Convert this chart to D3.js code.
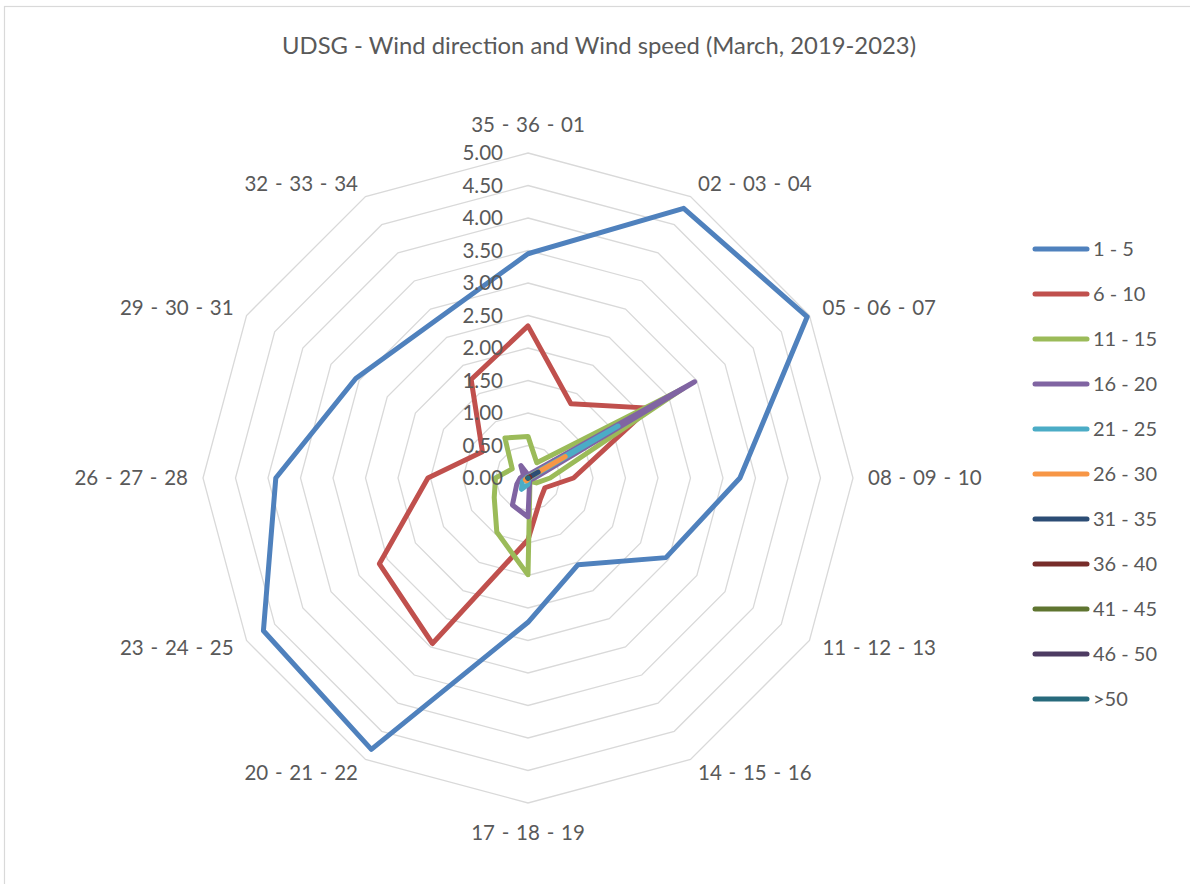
<!DOCTYPE html>
<html>
<head>
<meta charset="utf-8">
<script src="https://cdn.jsdelivr.net/npm/d3@7"></script>
<style>
  html, body { margin: 0; padding: 0; background: #fff; }
  svg { display: block; }
</style>
</head>
<body>
<svg id="chart" width="1190" height="884"></svg>
<script>
// ---------------- DATA ----------------
const title = "UDSG - Wind direction and Wind speed (March, 2019-2023)";
const directions = ["35 - 36 - 01", "02 - 03 - 04", "05 - 06 - 07", "08 - 09 - 10",
  "11 - 12 - 13", "14 - 15 - 16", "17 - 18 - 19", "20 - 21 - 22",
  "23 - 24 - 25", "26 - 27 - 28", "29 - 30 - 31", "32 - 33 - 34"];
const speedClasses = ["1 - 5", "6 - 10", "11 - 15", "16 - 20", "21 - 25", "26 - 30",
  "31 - 35", "36 - 40", "41 - 45", "46 - 50", ">50"];
const tickValues = [0, 0.5, 1, 1.5, 2, 2.5, 3, 3.5, 4, 4.5, 5];
const tickLabels = ["0.00", "0.50", "1.00", "1.50", "2.00", "2.50", "3.00", "3.50", "4.00", "4.50", "5.00"];

const s1_5   = [3.45, 4.79, 4.96, 3.26, 2.45, 1.54, 2.22, 4.82, 4.70, 3.88, 3.06, 2.81];
const s6_10  = [2.34, 1.32, 2.15, 0.70, 0.30, 0.38, 0.95, 2.94, 2.64, 1.54, 0.81, 1.75];
const s11_15 = [0.64, 0.27, 2.75, 0.34, 0.15, 0.06, 1.49, 0.96, 0.60, 0.50, 0.28, 0.71];
const s16_20 = [0.05, 0.08, 2.96, 0.10, 0.05, 0.05, 0.60, 0.48, 0.20, 0.12, 0.08, 0.22];
const s21_25 = [0.02, 0.03, 1.60, 0.03, 0.02, 0.02, 0.10, 0.20, 0.10, 0.03, 0.02, 0.02];
const s26_30 = [0.01, 0.01, 0.66, 0.01, 0.01, 0.01, 0.02, 0.05, 0.05, 0.01, 0.01, 0.01];
const s31_35 = [0.00, 0.00, 0.18, 0.00, 0.00, 0.00, 0.00, 0.00, 0.00, 0.00, 0.00, 0.00];
const s36_40 = [0.00, 0.00, 0.03, 0.00, 0.00, 0.00, 0.00, 0.00, 0.00, 0.00, 0.00, 0.00];
const s41_45 = [0, 0, 0, 0, 0, 0, 0, 0, 0, 0, 0, 0];
const s46_50 = [0, 0, 0, 0, 0, 0, 0, 0, 0, 0, 0, 0];
const s50p   = [0, 0, 0, 0, 0, 0, 0, 0, 0, 0, 0, 0];
const seriesValues = [s1_5, s6_10, s11_15, s16_20, s21_25, s26_30, s31_35, s36_40, s41_45, s46_50, s50p];
const seriesColors = ["#4F81BD", "#C0504D", "#9BBB59", "#8064A2", "#4BACC6", "#F79646",
  "#2C4D75", "#772C2A", "#5F7530", "#4D3B62", "#276A7C"];

// ---------------- LAYOUT ----------------
const svg = d3.select("#chart");
const cx = 528, cy = 478, R = 325;
const textColor = "#595959";
const font = "Lato, 'Open Sans', sans-serif";

svg.append("rect").attr("x", 0).attr("y", 0).attr("width", 1190).attr("height", 884).attr("fill", "#fff");
svg.append("rect").attr("x", 4.5).attr("y", 6.5).attr("width", 1200).attr("height", 900)
  .attr("fill", "none").attr("stroke", "#D9D9D9").attr("stroke-width", 1.2);

const rScale = d3.scaleLinear().domain([0, 5]).range([0, R]);
const angle = d3.scalePoint().domain(d3.range(directions.length)).range([0, 2 * Math.PI * (11 / 12)]);

const g = svg.append("g").attr("transform", `translate(${cx},${cy})`);

// grid rings
const ringLine = d3.lineRadial().angle((d, i) => angle(i)).radius(d => rScale(d)).curve(d3.curveLinearClosed);
tickValues.filter(v => v > 0).forEach(v => {
  g.append("path").attr("d", ringLine(directions.map(() => v)))
    .attr("fill", "none").attr("stroke", "#D9D9D9").attr("stroke-width", 1.3);
});

// series
const seriesLine = d3.lineRadial().angle((d, i) => angle(i)).radius(d => rScale(d)).curve(d3.curveLinearClosed);
seriesValues.forEach((vals, si) => {
  g.append("path").attr("d", seriesLine(vals))
    .attr("fill", "none").attr("stroke", seriesColors[si]).attr("stroke-width", 5)
    .attr("stroke-linejoin", "round").attr("stroke-linecap", "round");
});

// tick labels
tickValues.forEach((v, i) => {
  g.append("text").attr("x", -25).attr("y", -rScale(v)).attr("dy", "0.35em")
    .attr("text-anchor", "end").attr("font-family", font).attr("font-size", 20.5)
    .attr("fill", textColor).text(tickLabels[i]);
});

// direction labels
directions.forEach((lab, i) => {
  const a = angle(i);
  const s = Math.sin(a), c = Math.cos(a);
  const off = R + 15;
  let x = off * s, y = -off * c;
  let anchor = "middle";
  if (s > 0.01) anchor = "start"; else if (s < -0.01) anchor = "end";
  if (Math.abs(s) < 0.01) y += (c > 0 ? -13 : 15);
  g.append("text").attr("x", x).attr("y", y).attr("dy", "0.35em")
    .attr("text-anchor", anchor).attr("font-family", font).attr("font-size", 20.5)
    .attr("word-spacing", 1.5)
    .attr("fill", textColor).text(lab);
});

// title
svg.append("text").attr("x", 599).attr("y", 46).attr("dy", "0.35em")
  .attr("text-anchor", "middle").attr("font-family", font).attr("font-size", 23)
  .attr("fill", textColor).attr("textLength", 634).attr("lengthAdjust", "spacingAndGlyphs")
  .text(title);

// legend
const legY = d3.scalePoint().domain(speedClasses).range([249, 699]);
const leg = svg.append("g");
speedClasses.forEach((name, i) => {
  const y = legY(name);
  leg.append("line").attr("x1", 1035).attr("x2", 1087).attr("y1", y).attr("y2", y)
    .attr("stroke", seriesColors[i]).attr("stroke-width", 5).attr("stroke-linecap", "round");
  leg.append("text").attr("x", 1093).attr("y", y).attr("dy", "0.35em")
    .attr("font-family", font).attr("font-size", 20).attr("fill", textColor).text(name);
});
</script>
</body>
</html>
